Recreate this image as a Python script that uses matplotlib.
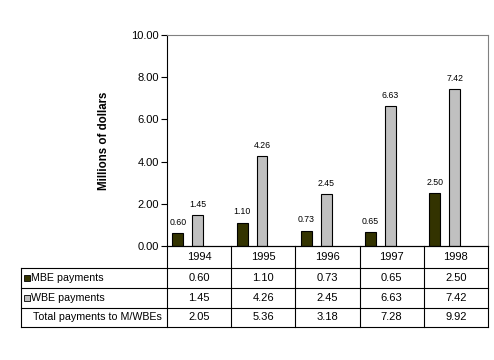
# Grouped bar chart with data table below (Excel style)
import matplotlib
matplotlib.use("Agg")
import matplotlib.pyplot as plt
from matplotlib.lines import Line2D
from matplotlib.patches import Rectangle

plt.rcParams['font.family'] = ['Liberation Sans', 'DejaVu Sans']

years = ["1994", "1995", "1996", "1997", "1998"]
mbe = [0.60, 1.10, 0.73, 0.65, 2.50]
wbe = [1.45, 4.26, 2.45, 6.63, 7.42]
total = [2.05, 5.36, 3.18, 7.28, 9.92]
row_labels = ["MBE payments", "WBE payments", "Total payments to M/WBEs"]

mbe_color = "#333300"
wbe_color = "#C0C0C0"

W, H = 494, 360
fig = plt.figure(figsize=(W / 100, H / 100), dpi=100)

# plot area in pixels
left, right, top, bottom = 167, 488, 35, 246
ax = fig.add_axes([left / W, 1 - bottom / H, (right - left) / W, (bottom - top) / H])

x = list(range(len(years)))
bw = 0.17
ax.bar([i - 0.33 for i in x], mbe, width=bw, color=mbe_color, edgecolor="black", linewidth=0.8)
ax.bar([i - 0.02 for i in x], wbe, width=bw, color=wbe_color, edgecolor="black", linewidth=0.8)

for i in x:
    ax.text(i - 0.33, mbe[i] + 0.3, f"{mbe[i]:.2f}", ha="center", va="bottom", fontsize=6.3)
    ax.text(i - 0.02, wbe[i] + 0.3, f"{wbe[i]:.2f}", ha="center", va="bottom", fontsize=6.3)

ax.set_xlim(-0.5, len(years) - 0.5)
ax.set_ylim(0, 10)
ax.set_yticks([0, 2, 4, 6, 8, 10])
ax.set_yticklabels([f"{v:.2f}" for v in [0, 2, 4, 6, 8, 10]], fontsize=8)
ax.tick_params(axis="y", direction="out", length=4, width=0.8, pad=2)
ax.set_xticks([])
for s in ["top", "right"]:
    ax.spines[s].set_color("#808080")
    ax.spines[s].set_linewidth(0.8)
ax.spines["left"].set_linewidth(0.8)
ax.spines["bottom"].set_linewidth(0.8)
ax.set_ylabel("Millions of dollars", fontsize=8.3, fontweight="bold", va="center")
ax.yaxis.set_label_coords((104 - left) / (right - left), 0.5)

# data table, in pixel coordinates
def fx(px):
    return px / W

def fy(py):
    return 1 - py / H

def hline(x0, x1, y):
    fig.add_artist(Line2D([fx(x0), fx(x1)], [fy(y), fy(y)], color="black", lw=0.8))

def vline(xp, y0, y1):
    fig.add_artist(Line2D([fx(xp), fx(xp)], [fy(y0), fy(y1)], color="black", lw=0.8))

tleft = 21
colw = (right - left) / len(years)
rows_y = [246, 268, 288, 308, 327]

hline(left, right, rows_y[0])
for yy in rows_y[1:]:
    hline(tleft, right, yy)
for k in range(len(years) + 1):
    vline(left + k * colw, rows_y[0], rows_y[-1])
vline(tleft, rows_y[1], rows_y[-1])

for k, yr in enumerate(years):
    fig.text(fx(left + (k + 0.5) * colw), fy((rows_y[0] + rows_y[1]) / 2), yr,
             ha="center", va="center", fontsize=8)

table_rows = [mbe, wbe, total]
keys = [mbe_color, wbe_color, None]
for r, (lab, vals, kc) in enumerate(zip(row_labels, table_rows, keys)):
    yc = (rows_y[r + 1] + rows_y[r + 2]) / 2
    if kc is not None:
        fig.add_artist(Rectangle((fx(24), fy(yc + 3)), 6 / W, 6 / H, facecolor=kc,
                                 edgecolor="black", lw=0.6, transform=fig.transFigure))
        fig.text(fx(31), fy(yc), lab, ha="left", va="center", fontsize=7.7)
    else:
        fig.text(fx(33), fy(yc), lab, ha="left", va="center", fontsize=7.7)
    for k, v in enumerate(vals):
        fig.text(fx(left + (k + 0.5) * colw), fy(yc), f"{v:.2f}",
                 ha="center", va="center", fontsize=8)

fig.savefig("out.png", dpi=100)
